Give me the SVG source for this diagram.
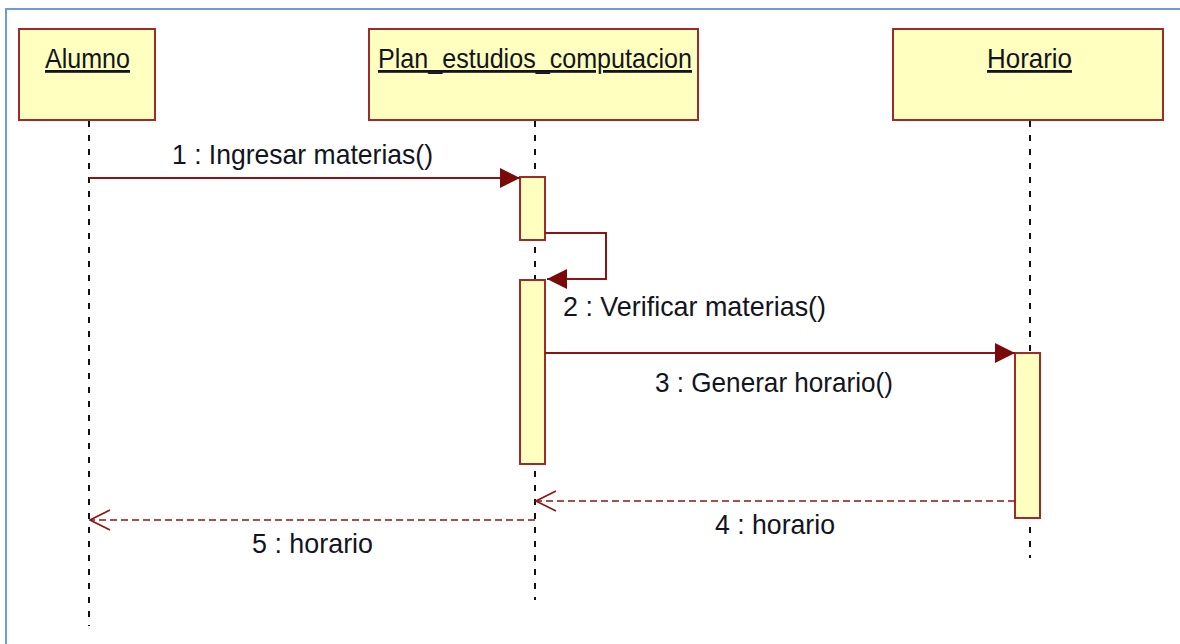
<svg xmlns="http://www.w3.org/2000/svg" width="1180" height="644" viewBox="0 0 1180 644">
  <style>
    .obj { fill: #ffffbf; stroke: #9e2a2a; stroke-width: 2; }
    .act { fill: #ffffbf; stroke: #9e2a2a; stroke-width: 2; }
    .life { stroke: #111; stroke-width: 2; stroke-dasharray: 6 8; fill: none; }
    .msg { stroke: #8b1414; stroke-width: 2; fill: none; }
    .ret { stroke: #8b1414; stroke-width: 1.6; stroke-dasharray: 7 4; fill: none; }
    .lbl { font-family: "Liberation Sans", Arial, sans-serif; font-size: 28px; fill: #141420; }
    .name { font-family: "Liberation Sans", Arial, sans-serif; font-size: 28px; fill: #141420; text-decoration: underline; }
  </style>
  <defs>
    <marker id="filled" viewBox="0 0 20 20" refX="20" refY="10" markerWidth="20" markerHeight="20" markerUnits="userSpaceOnUse" orient="auto">
      <path d="M0,0 L20,10 L0,20 Z" fill="#7a0a0a"/>
    </marker>
    <marker id="open" viewBox="0 0 22 22" refX="21" refY="11" markerWidth="22" markerHeight="22" markerUnits="userSpaceOnUse" orient="auto">
      <path d="M1,1 L21,11 L1,21" fill="none" stroke="#8b1414" stroke-width="1.6"/>
    </marker>
  </defs>

  <rect width="1180" height="644" fill="#ffffff"/>
  <!-- outer frame -->
  <path d="M6,644 L6,9 L1180,9" fill="none" stroke="#6b9bd9" stroke-width="2"/>

  <!-- lifelines -->
  <g id="lifelines">
    <line class="life" x1="89" y1="121" x2="89" y2="626"/>
    <line class="life" x1="535" y1="121" x2="535" y2="600"/>
    <line class="life" x1="1030" y1="121" x2="1030" y2="558"/>
  </g>

  <!-- objects -->
  <g id="alumno">
    <rect class="obj" x="19" y="29" width="136" height="91"/>
    <text class="name" x="45" y="68" textLength="85" lengthAdjust="spacingAndGlyphs">Alumno</text>
  </g>
  <g id="plan">
    <rect class="obj" x="369" y="29" width="329" height="91"/>
    <text class="name" x="378" y="68" textLength="314" lengthAdjust="spacingAndGlyphs">Plan_estudios_computacion</text>
  </g>
  <g id="horario">
    <rect class="obj" x="893" y="29" width="270" height="91"/>
    <text class="name" x="987" y="68" textLength="85" lengthAdjust="spacingAndGlyphs">Horario</text>
  </g>

  <!-- activations -->
  <g id="activations">
    <rect class="act" x="520" y="177" width="25" height="63"/>
    <rect class="act" x="520" y="280" width="25" height="184"/>
    <rect class="act" x="1015" y="353" width="25" height="165"/>
  </g>

  <!-- messages -->
  <g id="connectors">
    <line class="msg" x1="89" y1="178" x2="520" y2="178" marker-end="url(#filled)"/>
    <path class="msg" d="M545,233 L606,233 L606,279 L547,279" marker-end="url(#filled)"/>
    <line class="msg" x1="545" y1="353" x2="1015" y2="353" marker-end="url(#filled)"/>
    <line class="ret" x1="1015" y1="501" x2="536" y2="501" marker-end="url(#open)"/>
    <line class="ret" x1="535" y1="520" x2="90" y2="520" marker-end="url(#open)"/>
  </g>

  <!-- message labels -->
  <g id="labels">
    <text class="lbl" x="172" y="164" textLength="261" lengthAdjust="spacingAndGlyphs">1 : Ingresar materias()</text>
    <text class="lbl" x="563" y="316" textLength="263" lengthAdjust="spacingAndGlyphs">2 : Verificar materias()</text>
    <text class="lbl" x="655" y="392" textLength="238" lengthAdjust="spacingAndGlyphs">3 : Generar horario()</text>
    <text class="lbl" x="715" y="534" textLength="120" lengthAdjust="spacingAndGlyphs">4 : horario</text>
    <text class="lbl" x="252" y="553" textLength="121" lengthAdjust="spacingAndGlyphs">5 : horario</text>
  </g>
</svg>
